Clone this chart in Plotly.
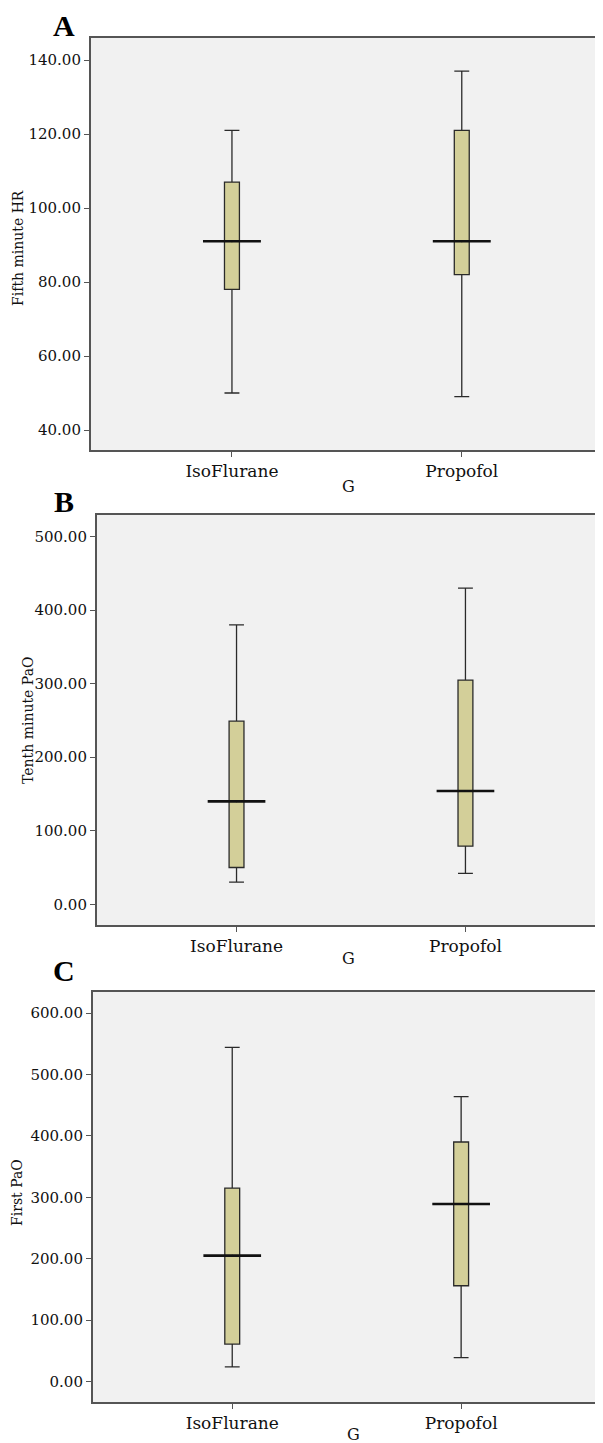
import plotly.graph_objects as go

# ---------------- data ----------------
groups = ["IsoFlurane", "Propofol"]
x_pos = [0, 1]  # category slots

# Panel A: Fifth minute HR
a_min = [50, 49]
a_q1 = [78, 82]
a_med = [91, 91]
a_q3 = [107, 121]
a_max = [121, 137]

# Panel B: Tenth minute PaO
b_min = [30, 42]
b_q1 = [50, 79]
b_med = [140, 154]
b_q3 = [249, 305]
b_max = [380, 430]

# Panel C: First PaO
c_min = [24, 39]
c_q1 = [61, 156]
c_med = [205, 289]
c_q3 = [315, 390]
c_max = [544, 464]

panel_letters = ["A", "B", "C"]
y_titles = ["Fifth minute HR", "Tenth minute PaO", "First PaO"]
x_title = "G"

# ---------------- style ----------------
OFF = 8                      # page body margin
W, H = 603 - OFF, 1443 - OFF
BOX_FILL = "#D3CF99"
BOX_LINE = "#2a2a2a"
AX_LINE = "#555555"
PLOT_BG = "#F1F1F1"
FONT = "DejaVu Serif"


def px(x):
    return (x - OFF) / W


def py(y):
    return 1 - (y - OFF) / H


panels = [
    dict(mn=a_min, q1=a_q1, med=a_med, q3=a_q3, mx=a_max,
         top=38, bot=450, left=91, xr=[-0.6145, 1.6058], yr=[34.6, 145.95],
         dtick=20, ytitle_x=18, ytitle_y=248, letter_y=26, g_y=486, g_x=350),
    dict(mn=b_min, q1=b_q1, med=b_med, q3=b_q3, mx=b_max,
         top=515, bot=925, left=97, xr=[-0.6108, 1.5921], yr=[-28.2, 529.5],
         dtick=100, ytitle_x=28, ytitle_y=720, letter_y=502, g_y=958, g_x=350),
    dict(mn=c_min, q1=c_q1, med=c_med, q3=c_q3, mx=c_max,
         top=992, bot=1402, left=93, xr=[-0.6095, 1.611], yr=[-33.3, 634.2],
         dtick=100, ytitle_x=17, ytitle_y=1192, letter_y=970, g_y=1434, g_x=355),
]

fig = go.Figure()
annotations = []
layout_axes = {}

for i, p in enumerate(panels):
    n = "" if i == 0 else str(i + 1)
    xa, ya = "x" + n, "y" + n

    fig.add_trace(go.Box(
        x=x_pos, q1=p["q1"], median=p["med"], q3=p["q3"],
        lowerfence=p["mn"], upperfence=p["mx"],
        xaxis=xa, yaxis=ya, width=0.065, whiskerwidth=1,
        fillcolor=BOX_FILL, line=dict(color=BOX_LINE, width=1.3),
        boxpoints=False, showlegend=False, hoverinfo="skip",
    ))
    # thick median line, wider than the box
    fig.add_trace(go.Scatter(
        x=x_pos, y=p["med"], mode="markers", xaxis=xa, yaxis=ya,
        marker=dict(size=2, color="#111111"),
        error_x=dict(type="constant", value=0.126, thickness=2.6,
                     width=0, color="#111111"),
        showlegend=False, hoverinfo="skip",
    ))

    dom_y = [py(p["bot"]), py(p["top"])]
    dom_x = [px(p["left"]), 1.0]
    layout_axes["xaxis" + n] = dict(
        domain=dom_x, anchor=ya, range=p["xr"],
        tickmode="array", tickvals=x_pos, ticktext=groups,
        showline=True, mirror=True, linecolor=AX_LINE, linewidth=1.5,
        ticks="outside", ticklen=5, tickcolor=AX_LINE, tickwidth=1,
        showgrid=False, zeroline=False,
        tickfont=dict(family=FONT, size=17, color="#111111"),
    )
    layout_axes["yaxis" + n] = dict(
        domain=dom_y, anchor=xa, range=p["yr"], dtick=p["dtick"], tick0=0,
        tickformat=".2f",
        showline=True, mirror=True, linecolor=AX_LINE, linewidth=1.5,
        ticks="outside", ticklen=5, tickcolor=AX_LINE, tickwidth=1,
        showgrid=False, zeroline=False,
        tickfont=dict(family=FONT, size=15, color="#111111"),
    )

    annotations.append(dict(
        text=y_titles[i], textangle=-90, xref="paper", yref="paper",
        x=px(p["ytitle_x"]), y=py(p["ytitle_y"]),
        xanchor="center", yanchor="middle", showarrow=False,
        font=dict(family=FONT, size=14, color="#111111"),
    ))
    annotations.append(dict(
        text="<b>" + panel_letters[i] + "</b>", xref="paper", yref="paper",
        x=px(64), y=py(p["letter_y"]),
        xanchor="center", yanchor="middle", showarrow=False,
        font=dict(family="Liberation Serif", size=30, color="#000000"),
    ))
    annotations.append(dict(
        text=x_title, xref="paper", yref="paper",
        x=px(p["g_x"]), y=py(p["g_y"]),
        xanchor="center", yanchor="middle", showarrow=False,
        font=dict(family=FONT, size=16, color="#111111"),
    ))

fig.update_layout(
    width=W, height=H,
    margin=dict(l=0, r=0, t=0, b=0),
    paper_bgcolor="white", plot_bgcolor=PLOT_BG,
    annotations=annotations,
    **layout_axes,
)

fig.write_html("out.html")
